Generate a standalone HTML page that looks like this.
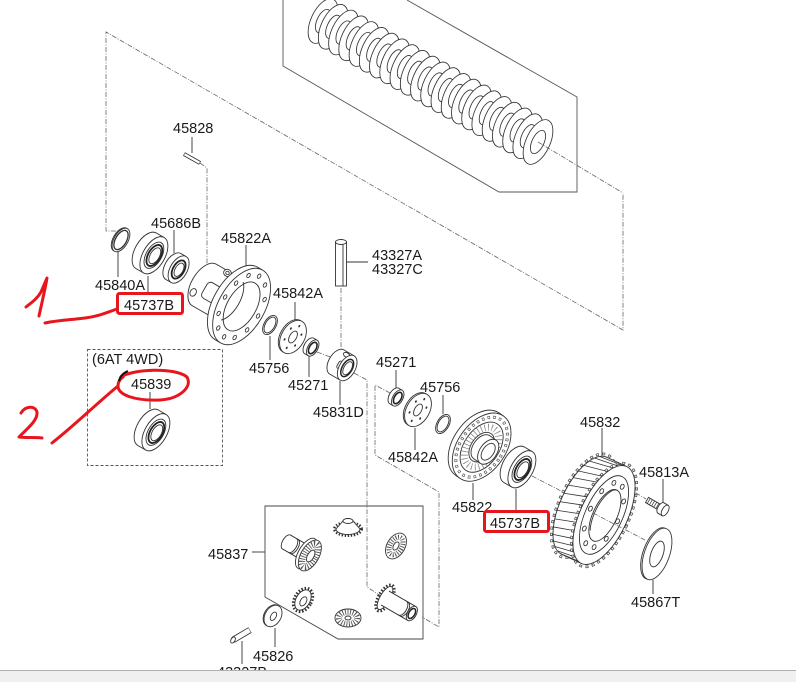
<!DOCTYPE html>
<html><head><meta charset="utf-8">
<style>
html,body{margin:0;padding:0;background:#fff;}
svg{display:block;}
text{font-family:"Liberation Sans",Arial,sans-serif;font-size:14.5px;fill:#1a1a1a;}
</style></head><body>
<svg width="796" height="682" viewBox="0 0 796 682" xmlns="http://www.w3.org/2000/svg">
<defs>
<g id="ring">
 <ellipse rx="12" ry="24" fill="#fff" stroke="#333" stroke-width=".85"/>
 <ellipse rx="6" ry="12.5" fill="#fff" stroke="#333" stroke-width=".85"/>
</g>
<g id="brg">
 <ellipse cx="-4.5" rx="11" ry="20.5" fill="#fff" stroke="#333" stroke-width=".9"/>
 <rect x="-4.5" y="-20.5" width="9" height="41" fill="#fff" stroke="none"/>
 <path d="M-4.5,-20.5H4.5M-4.5,20.5H4.5" fill="none" stroke="#333" stroke-width=".9"/>
 <ellipse cx="4.5" rx="11" ry="20.5" fill="#fff" stroke="#333" stroke-width=".9"/>
 <ellipse cx="4.5" rx="7.8" ry="14.5" fill="#fff" stroke="#333" stroke-width=".9"/>
 <ellipse cx="5" rx="6.2" ry="11.6" fill="none" stroke="#222" stroke-width="1.8"/>
 <ellipse cx="5.5" rx="4.6" ry="8.8" fill="#fff" stroke="#333" stroke-width=".9"/>
</g>
<g id="w271">
 <ellipse cx="-2" rx="5" ry="9" fill="#fff" stroke="#333" stroke-width=".9"/>
 <rect x="-2" y="-9" width="4" height="18" fill="#fff" stroke="none"/>
 <path d="M-2,-9H2M-2,9H2" fill="none" stroke="#333" stroke-width=".9"/>
 <ellipse cx="2" rx="5" ry="9" fill="#fff" stroke="#333" stroke-width=".9"/>
 <ellipse cx="2" rx="3.4" ry="6.3" fill="none" stroke="#222" stroke-width="1.6"/>
</g>
<g id="r756">
 <ellipse rx="6" ry="10.5" fill="#fff" stroke="#333" stroke-width=".9"/>
 <ellipse rx="4.7" ry="8.7" fill="none" stroke="#333" stroke-width=".9"/>
</g>
<g id="plate">
 <ellipse cx="-1.5" rx="11.5" ry="18" fill="#fff" stroke="#333" stroke-width=".9"/>
 <ellipse rx="11.5" ry="18" fill="#fff" stroke="#333" stroke-width=".9"/>
 <ellipse rx="3.5" ry="6.5" fill="#fff" stroke="#333" stroke-width=".9"/>
 <g fill="#333">
  <ellipse cx="6.1" cy="6.3" rx=".9" ry="1.3"/><ellipse cx="0" cy="12.5" rx=".9" ry="1.3"/>
  <ellipse cx="-6.1" cy="6.3" rx=".9" ry="1.3"/><ellipse cx="-6.1" cy="-6.3" rx=".9" ry="1.3"/>
  <ellipse cx="0" cy="-12.5" rx=".9" ry="1.3"/><ellipse cx="6.1" cy="-6.3" rx=".9" ry="1.3"/>
 </g>
</g>
</defs>

<!-- spring box -->
<polyline points="283,0 283,66 499,192 577,192 577,97 407,0" fill="none" stroke="#555" stroke-width=".9"/>

<!-- dashed construction lines -->
<g fill="none" stroke="#666" stroke-width=".8" stroke-dasharray="5,1.5,1,1.5">
 <polyline points="116,231 106,231 106,32 623,330 623,193"/>
 <polyline points="200,163 207,168 207,267 213,271"/>
 <line x1="341" y1="288" x2="341" y2="351"/>
 <line x1="317" y1="352" x2="333" y2="358"/>
 <polyline points="354,373 367,380 367,587 381,596"/>
 <polyline points="390,393 375,385 375,455 439,492 439,627 422,617"/>
 <line x1="532" y1="476" x2="561" y2="491"/>
 <line x1="628" y1="488" x2="646" y2="499"/>
</g>

<!-- spring rings -->
<use href="#ring" transform="translate(323,21) rotate(25)"/>
<use href="#ring" transform="translate(333.2,26.8) rotate(25)"/>
<use href="#ring" transform="translate(343.5,32.5) rotate(25)"/>
<use href="#ring" transform="translate(353.7,38.3) rotate(25)"/>
<use href="#ring" transform="translate(364,44) rotate(25)"/>
<use href="#ring" transform="translate(374.2,49.8) rotate(25)"/>
<use href="#ring" transform="translate(384.4,55.6) rotate(25)"/>
<use href="#ring" transform="translate(394.7,61.3) rotate(25)"/>
<use href="#ring" transform="translate(404.9,67.1) rotate(25)"/>
<use href="#ring" transform="translate(415.2,72.8) rotate(25)"/>
<use href="#ring" transform="translate(425.4,78.6) rotate(25)"/>
<use href="#ring" transform="translate(435.6,84.4) rotate(25)"/>
<use href="#ring" transform="translate(445.9,90.1) rotate(25)"/>
<use href="#ring" transform="translate(456.1,95.9) rotate(25)"/>
<use href="#ring" transform="translate(466.4,101.6) rotate(25)"/>
<use href="#ring" transform="translate(476.6,107.4) rotate(25)"/>
<use href="#ring" transform="translate(486.8,113.2) rotate(25)"/>
<use href="#ring" transform="translate(497.1,118.9) rotate(25)"/>
<use href="#ring" transform="translate(507.3,124.7) rotate(25)"/>
<use href="#ring" transform="translate(517.6,130.4) rotate(25)"/>
<use href="#ring" transform="translate(527.8,136.2) rotate(25)"/>
<use href="#ring" transform="translate(538,142) rotate(25)"/>
<line x1="538" y1="142" x2="623" y2="193" stroke="#666" stroke-width=".8" stroke-dasharray="5,1.5,1,1.5"/>

<!-- leaders -->
<g stroke="#333" stroke-width=".9" fill="none">
 <path d="M192,137V153"/>
 <path d="M118,252V277"/>
 <path d="M148,276V292"/>
 <path d="M174,230V253"/>
 <path d="M246,245V268"/>
 <path d="M347,262H368"/>
 <path d="M295,302V322"/>
 <path d="M270,336V360"/>
 <path d="M309,356V377"/>
 <path d="M340,381V405"/>
 <path d="M396,370V388"/>
 <path d="M443,395V414"/>
 <path d="M415,428V450"/>
 <path d="M473,483V500"/>
 <path d="M516,489V510"/>
 <path d="M602,428V457"/>
 <path d="M663,479V505"/>
 <path d="M653,580V594"/>
 <path d="M150,392V409"/>
 <path d="M252,552H265"/>
 <path d="M275,628V647"/>
 <path d="M242,641V664"/>
</g>

<!-- 45828 pin -->
<line x1="184" y1="154" x2="200" y2="163" stroke="#333" stroke-width="4"/>
<line x1="184.5" y1="154.3" x2="199.5" y2="162.7" stroke="#fff" stroke-width="2.3"/>

<!-- 45840A snap ring -->
<g transform="translate(121,240) rotate(30)" fill="#fff" stroke="#333" stroke-width=".9">
 <ellipse cx="-1" rx="7" ry="13"/>
 <ellipse rx="7" ry="13"/>
 <ellipse rx="5.5" ry="10.6" fill="none" stroke-width="1.3"/>
</g>

<!-- 45737B left bearing -->
<use href="#brg" transform="translate(150,253) rotate(30)"/>

<!-- 45686B seal -->
<g transform="translate(176,268) rotate(30)" fill="#fff" stroke="#333" stroke-width=".9">
 <ellipse cx="-3" rx="8.5" ry="15"/>
 <rect x="-3" y="-15" width="6" height="30" stroke="none"/>
 <path d="M-3,-15H3M-3,15H3" fill="none"/>
 <ellipse cx="3" rx="8.5" ry="15"/>
 <ellipse cx="3" rx="5.6" ry="10" fill="none" stroke-width="1.8" stroke="#222"/>
 <ellipse cx="3.5" rx="4" ry="7.3"/>
</g>

<!-- 45822A differential case -->
<g transform="translate(239,305) rotate(30)" fill="#fff" stroke="#333" stroke-width=".9">
 <ellipse cx="-40" rx="13" ry="24"/>
 <rect x="-40" y="-24" width="38" height="48" stroke="none"/>
 <path d="M-40,-24H-2M-40,24H-2" fill="none"/>
 <path d="M-34,-6h8a4,4 0 0 1 4,4v10a4,4 0 0 1 -4,4h-8a4,4 0 0 1 -4,-4v-10a4,4 0 0 1 4,-4z"/>
 <ellipse cx="-46" cy="12" rx="3" ry="4"/>
 <ellipse cx="-26" cy="-22" rx="4" ry="3.5"/>
 <ellipse cx="-26" cy="-22" rx="1.8" ry="1.6" fill="none"/>
 <ellipse cx="-3" rx="23" ry="42"/>
 <rect x="-3" y="-42" width="6" height="84" stroke="none"/>
 <path d="M-3,-42H3M-3,42H3" fill="none"/>
 <ellipse cx="3" rx="23" ry="42"/>
 <ellipse cx="3" rx="14.5" ry="27"/>
 <path d="M-8,-22 A12,24 0 0 1 -8,22" fill="none"/>
 <ellipse cx="22" cy="0" rx="1.5" ry="2.4"/>
 <ellipse cx="19.45" cy="17.5" rx="1.5" ry="2.4"/>
 <ellipse cx="12.5" cy="30.3" rx="1.5" ry="2.4"/>
 <ellipse cx="3" cy="35" rx="1.5" ry="2.4"/>
 <ellipse cx="-6.5" cy="30.3" rx="1.5" ry="2.4"/>
 <ellipse cx="-13.45" cy="17.5" rx="1.5" ry="2.4"/>
 <ellipse cx="-16" cy="0" rx="1.5" ry="2.4"/>
 <ellipse cx="-13.45" cy="-17.5" rx="1.5" ry="2.4"/>
 <ellipse cx="-6.5" cy="-30.3" rx="1.5" ry="2.4"/>
 <ellipse cx="3" cy="-35" rx="1.5" ry="2.4"/>
 <ellipse cx="12.5" cy="-30.3" rx="1.5" ry="2.4"/>
 <ellipse cx="19.45" cy="-17.5" rx="1.5" ry="2.4"/>
</g>

<!-- left small parts -->
<use href="#r756" transform="translate(270,325) rotate(30)"/>
<use href="#plate" transform="translate(293,337) rotate(30)"/>
<use href="#w271" transform="translate(311,347) rotate(30)"/>

<!-- 43327A pin -->
<g fill="#fff" stroke="#333" stroke-width=".9">
 <rect x="335.5" y="242" width="11" height="44"/>
 <ellipse cx="341" cy="242" rx="5.5" ry="2.5"/>
 <path d="M343,244.5V286" fill="none"/>
</g>

<!-- 45831D block -->
<g transform="translate(342,365) rotate(30)" fill="#fff" stroke="#333" stroke-width=".9">
 <ellipse cx="-6" rx="8" ry="14"/>
 <rect x="-6" y="-14" width="12" height="28" stroke="none"/>
 <path d="M-6,-14H6M-6,14H6" fill="none"/>
 <rect x="-4" y="-3" width="6" height="8" rx="2"/>
 <ellipse cx="-1" cy="-11" rx="3.5" ry="2.2"/>
 <ellipse cx="6" rx="8" ry="14"/>
 <ellipse cx="6" rx="5" ry="9.5" fill="none" stroke-width="1.5" stroke="#222"/>
 <ellipse cx="6.5" rx="3.8" ry="7.2"/>
</g>

<!-- right small parts -->
<use href="#w271" transform="translate(396,397) rotate(30)"/>
<use href="#plate" transform="translate(418,410) rotate(30)"/>
<use href="#r756" transform="translate(443,424) rotate(30)"/>

<!-- 45822 disc -->
<g transform="translate(480,446) rotate(35)" fill="#fff" stroke="#333" stroke-width=".9">
 <ellipse cx="-3" rx="24" ry="38"/>
 <rect x="-3" y="-38" width="5" height="76" stroke="none"/>
 <path d="M-3,-38H2M-3,38H2" fill="none"/>
 <ellipse cx="2" rx="24" ry="38"/>
 <ellipse cx="2" rx="21" ry="33.5" fill="none" stroke="#555" stroke-width="3" stroke-dasharray="2.6 3.2"/>
 <ellipse cx="2" rx="21" ry="33.5" fill="none" stroke="#fff" stroke-width="1.6" stroke-dasharray="1.4 4.4" stroke-dashoffset="-0.6"/>
 <ellipse cx="2" rx="17.5" ry="28" fill="none"/>
 <ellipse cx="2" rx="14" ry="22" fill="none" stroke="#888" stroke-width="7" stroke-dasharray="0.8 2.8"/>
 <ellipse cx="2" rx="10.5" ry="16.5"/>
 <ellipse cx="2" rx="8.5" ry="14"/>
 <rect x="2" y="-14" width="8" height="28" stroke="none"/>
 <path d="M2,-14H10M2,14H10" fill="none"/>
 <ellipse cx="10" rx="8.5" ry="14"/>
 <ellipse cx="10" rx="5.5" ry="9.5"/>
</g>

<!-- 45737B right bearing -->
<use href="#brg" transform="translate(518,467) rotate(30)"/>

<!-- 45832 ring gear -->
<g transform="translate(604,515) rotate(25)" fill="#fff" stroke="#333" stroke-width=".9">
 <ellipse cx="-22" rx="25" ry="56" fill="none" stroke="#444" stroke-width="2.6" stroke-dasharray="3 3.4"/>
 <ellipse cx="-22" rx="25" ry="56" fill="none" stroke="#fff" stroke-width="1.2" stroke-dasharray="1.6 4.8" stroke-dashoffset="-0.7"/>
 <ellipse cx="-22" rx="23.5" ry="53.5"/>
 <rect x="-22" y="-53.5" width="22" height="107" stroke="none"/>
 <path d="M-22,-53.5H0M-22,53.5H0" fill="none"/>
 <path fill="none" stroke-width=".8" d="M-4.08,52.69L-23.23,53.42M-8.04,50.27L-27.29,52.13M-11.75,46.33L-31.18,49.25M-15.11,40.98L-34.8,44.87M-18,34.39L-38.03,39.13M-20.35,26.75L-40.77,32.2M-22.08,18.3L-42.94,24.29M-23.14,9.29L-44.47,15.64M-23.5,0L-45.32,6.52M-23.14,-9.29L-45.47,-2.8M-22.08,-18.3L-44.9,-12.04M-20.35,-26.75L-43.63,-20.9M-18,-34.39L-41.71,-29.14M-15.11,-40.98L-39.19,-36.49M-11.75,-46.33L-36.14,-42.73M-8.04,-50.27L-32.67,-47.67M-4.08,-52.69L-28.87,-51.16"/>
 <ellipse rx="25" ry="56" fill="none" stroke="#444" stroke-width="2.6" stroke-dasharray="3 3.4"/>
 <ellipse rx="25" ry="56" fill="none" stroke="#fff" stroke-width="1.2" stroke-dasharray="1.6 4.8" stroke-dashoffset="-0.7"/>
 <ellipse rx="23.5" ry="53.5"/>
 <ellipse rx="18.5" ry="42.5" fill="none"/>
 <ellipse cx="15" cy="0" rx="1.8" ry="2.6"/>
 <ellipse cx="12.1" cy="20.6" rx="1.8" ry="2.6"/>
 <ellipse cx="4.6" cy="33.3" rx="1.8" ry="2.6"/>
 <ellipse cx="-4.6" cy="33.3" rx="1.8" ry="2.6"/>
 <ellipse cx="-12.1" cy="20.6" rx="1.8" ry="2.6"/>
 <ellipse cx="-15" cy="0" rx="1.8" ry="2.6"/>
 <ellipse cx="-12.1" cy="-20.6" rx="1.8" ry="2.6"/>
 <ellipse cx="-4.6" cy="-33.3" rx="1.8" ry="2.6"/>
 <ellipse cx="4.6" cy="-33.3" rx="1.8" ry="2.6"/>
 <ellipse cx="12.1" cy="-20.6" rx="1.8" ry="2.6"/>
 <ellipse cx="1" rx="12" ry="28"/>
 <path d="M1,-28 A11.5,28 0 0 0 -6,20" fill="none"/>
</g>
<line x1="593" y1="513" x2="645" y2="540" stroke="#666" stroke-width=".8" stroke-dasharray="5,1.5,1,1.5"/>

<!-- 45813A bolt -->
<g transform="translate(647,500) rotate(30)" fill="#fff" stroke="#333" stroke-width=".9">
 <rect x="0" y="-3" width="16" height="6"/>
 <path d="M2,-3V3M4.5,-3V3M7,-3V3M9.5,-3V3M12,-3V3M14.5,-3V3" fill="none" stroke-width=".7"/>
 <ellipse cx="16" rx="3" ry="6"/>
 <rect x="16" y="-6" width="5" height="12" stroke="none"/>
 <path d="M16,-6H21M16,6H21" fill="none"/>
 <ellipse cx="21" rx="3" ry="6"/>
</g>

<!-- 45867T washer -->
<g transform="translate(657,554) rotate(20)" fill="#fff" stroke="#333" stroke-width=".9">
 <ellipse cx="-1.5" rx="12.5" ry="27"/>
 <ellipse rx="12.5" ry="27"/>
 <ellipse rx="6" ry="13.5"/>
</g>

<!-- 6AT 4WD box -->
<rect x="87.5" y="349.5" width="135" height="116" fill="none" stroke="#555" stroke-width=".9" stroke-dasharray="3,2"/>
<use href="#brg" transform="translate(152,430) rotate(30)"/>

<!-- 45837 box -->
<polygon points="265,506 423,506 423,639 338,639 265,597" fill="none" stroke="#444" stroke-width=".9"/>
<g transform="translate(309,555) rotate(30)" fill="#fff" stroke="#333" stroke-width=".9">
 <ellipse cx="-26" rx="4" ry="8"/>
 <rect x="-26" y="-8" width="23" height="16" stroke="none"/>
 <path d="M-26,-8H-3M-26,8H-3" fill="none"/>
 <path d="M-19,-8A4,8 0 0 1 -19,8M-17,-8A4,8 0 0 1 -17,8" fill="none"/>
 <ellipse cx="-3" rx="8" ry="17"/>
 <ellipse cx="1" rx="9" ry="17"/>
 <ellipse cx="1" rx="6" ry="12.5" fill="none" stroke="#555" stroke-width="7" stroke-dasharray="0.9 1.6"/>
 <ellipse cx="2" rx="3.2" ry="6.5"/>
</g>
<g transform="translate(348,527)" fill="#fff" stroke="#333" stroke-width=".9">
 <ellipse cy="2" rx="13.5" ry="6.5" fill="none" stroke-width="3" stroke-dasharray="1.4 1.6"/>
 <path d="M-12,2 L-5,-6 A5,2.5 0 0 1 5,-6 L12,2 A12,5.5 0 0 1 -12,2Z"/>
 <ellipse cy="-6" rx="5" ry="2.5"/>
</g>
<g transform="translate(396,546) rotate(30)" fill="#fff" stroke="#333" stroke-width=".9">
 <ellipse rx="9" ry="14"/>
 <ellipse rx="5.8" ry="9.5" fill="none" stroke="#555" stroke-width="5" stroke-dasharray="0.9 1.5"/>
 <ellipse rx="2.5" ry="4.5"/>
</g>
<g transform="translate(303,600) rotate(30)" fill="#fff" stroke="#333" stroke-width=".9">
 <ellipse rx="8.5" ry="12.5" fill="none" stroke-width="3" stroke-dasharray="1.5 1.7"/>
 <ellipse rx="7" ry="11"/>
 <ellipse cx="1" cy="1" rx="3" ry="5"/>
</g>
<g transform="translate(348,618)" fill="#fff" stroke="#333" stroke-width=".9">
 <ellipse rx="13" ry="9"/>
 <ellipse rx="9" ry="6" fill="none" stroke="#555" stroke-width="6" stroke-dasharray="0.9 1.6"/>
 <ellipse rx="3" ry="2"/>
</g>
<g transform="translate(385,598) rotate(30)" fill="#fff" stroke="#333" stroke-width=".9">
 <ellipse rx="6.5" ry="14.5" fill="none" stroke-width="3" stroke-dasharray="1.5 1.7"/>
 <ellipse rx="5" ry="13"/>
 <rect x="0" y="-8" width="31" height="16" stroke="none"/>
 <path d="M0,-8H31M0,8H31" fill="none"/>
 <path d="M20,-8A4.5,8 0 0 1 20,8M22,-8A4.5,8 0 0 1 22,8" fill="none"/>
 <ellipse cx="31" rx="4.5" ry="8"/>
 <ellipse cx="31" rx="3" ry="5.5" fill="none" stroke-width="1.5" stroke="#222"/>
</g>

<!-- 45826 washer -->
<g transform="translate(273,616) rotate(30)" fill="#fff" stroke="#333" stroke-width=".9">
 <ellipse cx="-1" rx="8" ry="11.5"/>
 <ellipse rx="8" ry="11.5"/>
 <ellipse cx="0.5" rx="2.6" ry="4.6"/>
</g>

<!-- 43327B pin -->
<line x1="233" y1="640" x2="250" y2="630" stroke="#333" stroke-width="6.5"/>
<line x1="233.4" y1="639.8" x2="249.6" y2="630.2" stroke="#fff" stroke-width="4.7"/>
<ellipse transform="translate(233,640) rotate(30)" rx="2" ry="3.3" fill="#fff" stroke="#333" stroke-width=".9"/>

<!-- labels -->
<text x="173" y="133">45828</text>
<text x="151" y="228">45686B</text>
<text x="221" y="243">45822A</text>
<text x="95" y="290">45840A</text>
<text x="124" y="310">45737B</text>
<text x="372" y="260">43327A</text>
<text x="372" y="274">43327C</text>
<text x="273" y="298">45842A</text>
<text x="249" y="373">45756</text>
<text x="288" y="390">45271</text>
<text x="313" y="417">45831D</text>
<text x="376" y="367">45271</text>
<text x="420" y="392">45756</text>
<text x="388" y="462">45842A</text>
<text x="452" y="512">45822</text>
<text x="490" y="528">45737B</text>
<text x="580" y="427">45832</text>
<text x="639" y="477">45813A</text>
<text x="631" y="607">45867T</text>
<text x="92" y="364">(6AT 4WD)</text>
<text x="131" y="389">45839</text>
<text x="208" y="559">45837</text>
<text x="253" y="661">45826</text>
<text x="217" y="677">43327B</text>

<!-- red annotations -->
<g fill="none" stroke="#e8161c" stroke-width="3" stroke-linecap="round" stroke-linejoin="round">
 <rect x="117.5" y="293.5" width="65" height="20" rx="2"/>
 <rect x="484.5" y="511.5" width="64" height="20" rx="2"/>
 <path d="M26,307 C31,303 37,299 41,292 L47,278 C45,290 42,302 39,316"/>
 <path d="M45,323 C60,320 70,320 85,318 S105,313 117,309"/>
 <path d="M21,413 C25,406 35,405 37,412 C38,420 28,428 19,437 C27,438 35,437 42,438"/>
 <path d="M52,443 C75,425 95,405 118,386"/>
 <path d="M121,377 C132,369 175,367 187,377 C193,388 178,399 160,400 C135,401 118,395 118,386 C118,382 120,379 123,377"/>
</g>
<path d="M119,381 C120,376 123,373 128,371" fill="none" stroke="#111" stroke-width="2"/>

<!-- bottom gray bar -->
<rect x="0" y="670.5" width="796" height="12" fill="#f0f0f0"/>
<line x1="0" y1="670.5" x2="796" y2="670.5" stroke="#b0b0b0" stroke-width="1"/>
</svg>
</body></html>
